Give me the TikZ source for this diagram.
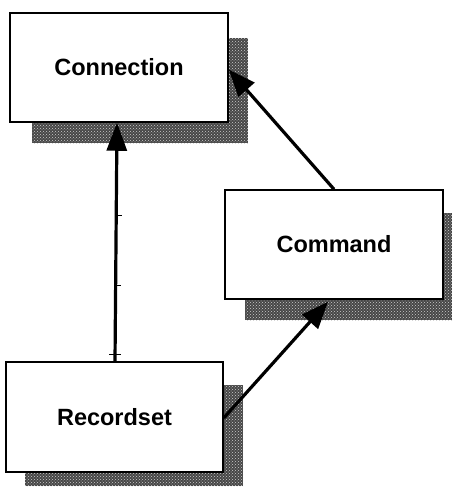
\documentclass[tikz,border=0pt]{standalone}
\usepackage{fontspec}
\setmainfont{Liberation Sans}
\usetikzlibrary{arrows.meta,patterns}
\tikzset{
  objbox/.style={draw=black, line width=1.5pt, fill=white, minimum width=218pt,
    minimum height=109pt, inner sep=0pt, font=\fontsize{23.5}{28}\selectfont\bfseries},
  dropshadow/.style={fill=black!72, postaction={pattern=crosshatch dots, pattern color=white!80!black}},
  link/.style={line width=3.2pt, -{Triangle[length=27pt,width=21pt]}},
  tick/.style={line width=1pt}
}
\begin{document}
\begin{tikzpicture}[x=1pt,y=-1pt]
  \useasboundingbox (0,0) rectangle (455,487);
  % speckled drop shadows behind the boxes
  \fill[dropshadow] (32,38) rectangle (248,143);
  \fill[dropshadow] (245,213) rectangle (452,320);
  \fill[dropshadow] (25,385) rectangle (243,486);
  % boxes
  \node[objbox] (conn) at (119,67.5) {Connection};
  \node[objbox] (cmd)  at (334,244.5) {Command};
  \node[objbox, minimum width=217pt, minimum height=110pt] (rs) at (114.5,417) {Recordset};
  % connectors
  \draw[line width=3.2pt, -{Triangle[length=28pt,width=20pt]}]
    ([xshift=0.5pt]rs.north) -- ([xshift=-2pt]conn.south);
  \draw[link] (cmd.north) -- ([yshift=-2pt]conn.east);
  \draw[link] ([yshift=-1pt]rs.east) -- ([xshift=-6pt,yshift=-2pt]cmd.south);
  % small marks on the vertical line
  \coordinate (ta) at (116.5,215);
  \coordinate (tb) at (116,285);
  \coordinate (tc) at (115,354);
  \draw[tick] (ta) -- ++(5,0);
  \draw[tick] (tb) -- ++(5,0);
  \draw[tick] ([xshift=-6pt]tc) -- ++(12,0);
\end{tikzpicture}
\end{document}
